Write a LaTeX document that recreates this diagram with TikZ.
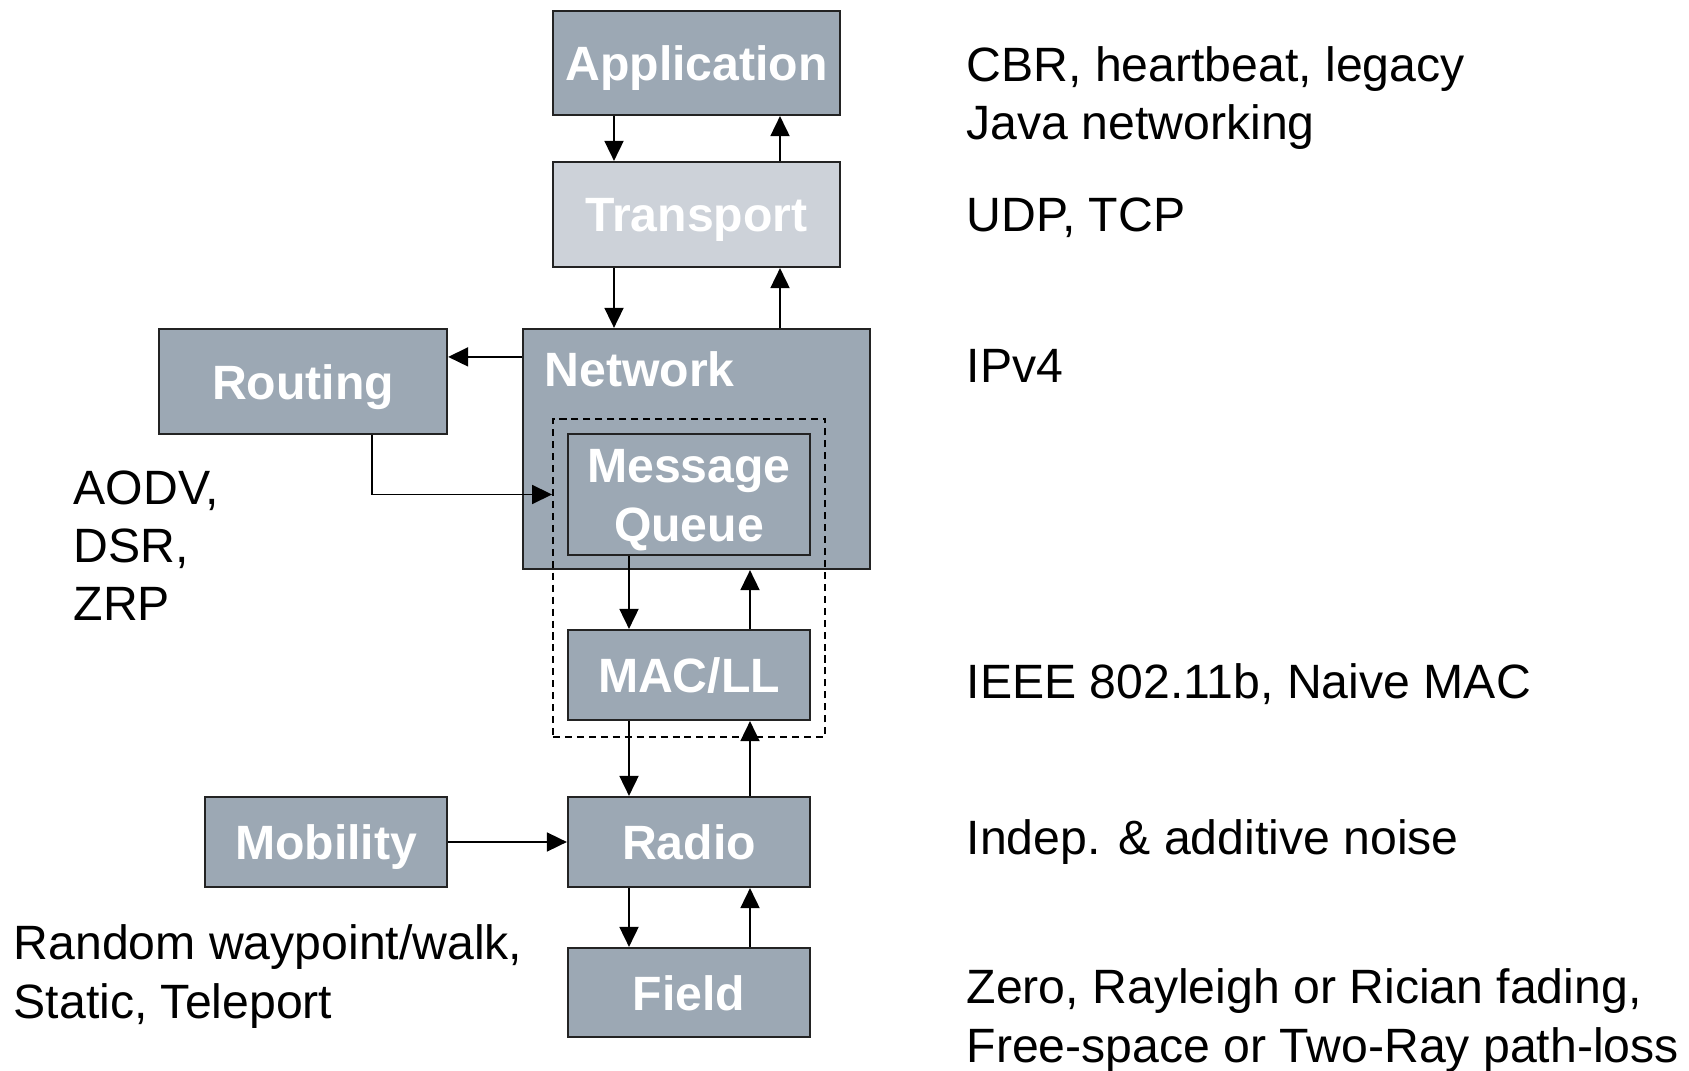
\documentclass[tikz,border=0pt]{standalone}
\usepackage{fontspec}
\setmainfont{Liberation Sans}
\usepackage{xcolor}
\usepackage{tikz}
\usetikzlibrary{arrows.meta, positioning, calc}
\definecolor{layergray}{RGB}{156,168,180}
\definecolor{lightgray}{RGB}{205,210,217}
\definecolor{edgegray}{RGB}{35,35,35}

\begin{document}
\begin{tikzpicture}[x=0.01cm, y=-0.01cm,
    every node/.style={font=\fontsize{13.7}{16.5}\selectfont},
    layer/.style={draw=edgegray, line width=0.6pt, fill=layergray, text=white, font=\fontsize{13.7}{16.5}\selectfont\bfseries, align=center, inner sep=0pt, text height=0.35cm, text depth=0pt},
    note/.style={anchor=base west, align=left, inner sep=0pt},
    flow/.style={-{Triangle[length=0.2cm, width=0.19cm]}, line width=0.5pt}]
    \useasboundingbox (0,0) rectangle (1689,1071);

    % Protocol stack
    \node[layer, minimum width=2.87cm, minimum height=1.04cm] (app) at (696.5,63) {Application};
    \node[layer, fill=lightgray, minimum width=2.87cm, minimum height=1.05cm] (trans) at (696.5,214.5) {Transport};
    \node[layer, minimum width=3.47cm, minimum height=2.40cm] (net) at (696.5,449) {};
    \node[note, text=white, font=\fontsize{13.7}{16.5}\selectfont\bfseries] (netlabel) at (544,387) {Network};
    \node[draw, dashed, dash pattern=on 2pt off 1.4pt, line width=0.5pt, minimum width=2.72cm, minimum height=3.18cm] (dash) at (689,578) {};
    \node[layer, text height=0.93cm, minimum width=2.42cm, minimum height=1.21cm] (mq) at (689,494.5) {Message\\Queue};
    \node[layer, minimum width=2.42cm, minimum height=0.90cm] (mac) at (689,675) {MAC/LL};
    \node[layer, minimum width=2.42cm, minimum height=0.90cm] (radio) at (689,842) {Radio};
    \node[layer, minimum width=2.42cm, minimum height=0.89cm] (field) at (689,992.5) {Field};

    % Side modules
    \node[layer, minimum width=2.88cm, minimum height=1.05cm] (route) at (303,381.5) {Routing};
    \node[layer, minimum width=2.42cm, minimum height=0.90cm] (mob) at (326,842) {Mobility};

    % Arrow columns
    \coordinate (dnA) at (614,0);
    \coordinate (upA) at (780,0);
    \coordinate (dnB) at (629,0);
    \coordinate (upB) at (750,0);
    \coordinate (rtcol) at (372,0);

    % Down and up arrows
    \draw[flow] (app.south -| dnA) -- (trans.north -| dnA);
    \draw[flow] (trans.north -| upA) -- (app.south -| upA);
    \draw[flow] (trans.south -| dnA) -- (net.north -| dnA);
    \draw[flow] (net.north -| upA) -- (trans.south -| upA);
    \draw[flow] (mq.south -| dnB) -- (mac.north -| dnB);
    \draw[flow] (mac.north -| upB) -- (net.south -| upB);
    \draw[flow] (mac.south -| dnB) -- (radio.north -| dnB);
    \draw[flow] (radio.north -| upB) -- (mac.south -| upB);
    \draw[flow] (radio.south -| dnB) -- (field.north -| dnB);
    \draw[flow] (field.north -| upB) -- (radio.south -| upB);

    % Routing and mobility links
    \draw[flow] ([yshift=-0.29cm]net.north west) -- ([yshift=-0.29cm]route.north east);
    \draw[flow] (route.south -| rtcol) |- (dash.west |- mq.center);
    \draw[flow] (mob.east) -- (radio.west);

    % Implementations
    \node[note] (appnote) at (966,140) {CBR, heartbeat, legacy\\Java networking};
    \node[note] (transnote) at (966,232) {UDP, TCP};
    \node[note] (netnote) at (966,383) {IPv4};
    \node[note] (macnote) at (966,699) {IEEE 802.11b, Naive MAC};
    \node[note] (radionote) at (966,854) {Indep. \& additive noise};
    \node[note] (fieldnote) at (966,1062) {Zero, Rayleigh or Rician fading,\\Free-space or Two-Ray path-loss};
    \node[note] (routenote) at (73,621) {AODV,\\DSR,\\ZRP};
    \node[note] (mobnote) at (13,1018) {Random waypoint/walk,\\Static, Teleport};
\end{tikzpicture}
\end{document}
